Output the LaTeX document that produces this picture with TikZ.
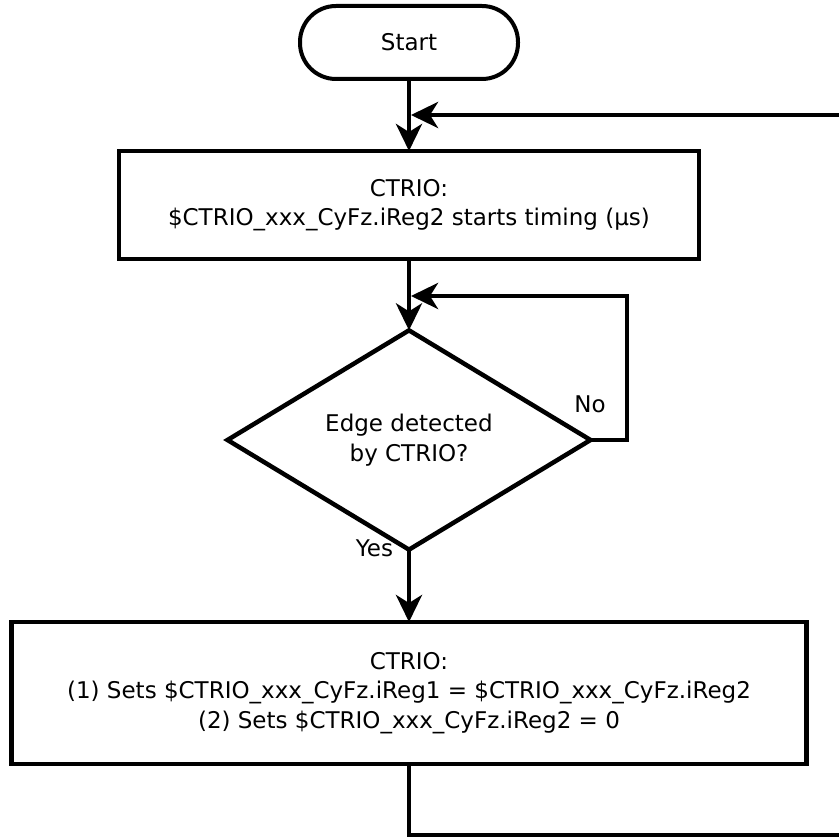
\documentclass[tikz,border=0pt]{standalone}
\usepackage{fontspec}
\setmainfont{DejaVu Sans}
\usetikzlibrary{shapes.geometric,arrows.meta}
\begin{document}
\begin{tikzpicture}[x=1pt,y=-1pt,
  every node/.style={font=\fontsize{23}{29.5}\selectfont, align=center, inner sep=0pt, outer sep=0pt},
  wire/.style={line width=4.5pt},
  flow/.style={wire, -{Stealth[length=27pt,width=26pt,inset=8pt]}},
  terminal/.style={draw, line width=4pt, rounded corners=36pt, minimum width=218pt, minimum height=73pt},
  process/.style={draw, line width=4.5pt, rectangle},
  decision/.style={draw, line width=4.5pt, diamond, minimum width=363pt, minimum height=217pt}]
  \useasboundingbox[fill=white] (0,0) rectangle (839,837);

  % flow steps
  \node[terminal] (start) at (409,42.5) {Start};
  \node[process, minimum width=580pt, minimum height=108pt] (timing) at (409,205)
    {CTRIO:\\\$CTRIO\_xxx\_CyFz.iReg2 starts timing (µs)};
  \node[decision] (edge) at (409,440) {Edge detected\\by CTRIO?};
  \node[process, minimum width=795pt, minimum height=142pt] (latch) at (409,693)
    {CTRIO:\\(1) Sets \$CTRIO\_xxx\_CyFz.iReg1 = \$CTRIO\_xxx\_CyFz.iReg2\\(2) Sets \$CTRIO\_xxx\_CyFz.iReg2 = 0};

  % branch labels
  \node[anchor=base east] (yes) at (393,556) {Yes};
  \node[anchor=base] (no) at (590,413) {No};

  % junction points on the vertical flow line
  \coordinate (loopin) at (411,115);
  \coordinate (waitin) at (411,296);

  % main flow
  \draw[flow] (start.south) -- (timing.north);
  \draw[flow] (timing.south) -- (edge.north);
  \draw[flow] (edge.south) -- (latch.north);

  % wait loop while no edge is seen
  \draw[flow] (edge.east) -- (627,440) |- (waitin);

  % return to the timing step after latching
  \draw[flow] (latch.south) -- (409,835) -- (842,835) |- (loopin);
\end{tikzpicture}
\end{document}
